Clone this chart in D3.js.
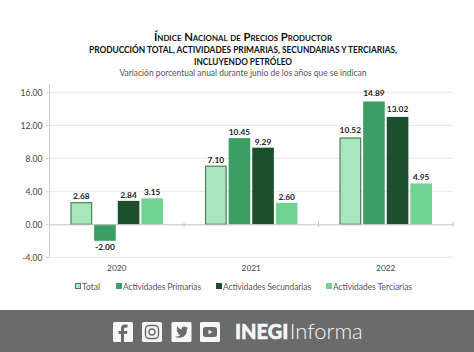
<!DOCTYPE html>
<html lang="es">
	<head>
		<meta charset="utf-8">
		<title>INPP</title>
		<script src="https://cdnjs.cloudflare.com/ajax/libs/d3/7.8.5/d3.min.js"></script>
		<style>
			html, body { margin: 0; padding: 0; background: #fff; overflow: hidden; }
			svg { display: block; }
			text { font-family: Lato, "Open Sans", sans-serif; }
		</style>
	</head>
	<body>
		<script>
			//Data
			var years = ["2020", "2021", "2022"];
			var seriesNames = ["Total", "Actividades Primarias", "Actividades Secundarias", "Actividades Terciarias"];
			var total = [2.68, 7.10, 10.52];
			var primarias = [-2.00, 10.45, 14.89];
			var secundarias = [2.84, 9.29, 13.02];
			var terciarias = [3.15, 2.60, 4.95];
			var yTicks = [-4, 0, 4, 8, 12, 16];
			var titleLines = [
				"Índice Nacional de Precios Productor",
				"PRODUCCIÓN TOTAL, ACTIVIDADES PRIMARIAS, SECUNDARIAS Y TERCIARIAS,",
				"INCLUYENDO PETRÓLEO"
			];
			var subtitle = "Variación porcentual anual durante junio de los años que se indican";

			var allSeries = [total, primarias, secundarias, terciarias];
			var fills = ["#a8e6bd", "#3c9e63", "#1d4f2c", "#70d394"];
			var strokes = ["#4f7f5e", "none", "none", "none"];

			var w = 474;
			var h = 352;
			var cx = 243;

			//Plain hyphen on negatives, as in the original
			var fmt = function(d) { return d3.format(".2f")(d).replace("\u2212", "-"); };

			var svg = d3.select("body").append("svg")
				.attr("width", w)
				.attr("height", h);

			//Scales
			var yScale = d3.scaleLinear().domain([-4, 16]).range([257.3, 92.3]);
			var x0 = d3.scaleBand().domain(years).range([49.5, 453]);
			var x1 = d3.scaleBand().domain(d3.range(4))
				.range([0, x0.bandwidth()])
				.paddingInner(0.085)
				.paddingOuter(0.89);

			//Titles
			svg.append("text").text(titleLines[0])
				.attr("x", cx).attr("y", 41)
				.attr("text-anchor", "middle")
				.attr("font-size", "11.5px").attr("font-weight", "bold")
				.attr("font-variant", "small-caps").attr("fill", "#111")
				.attr("textLength", 178).attr("lengthAdjust", "spacingAndGlyphs");
			var lineWidths = [308, 98];
			svg.selectAll("text.t2")
				.data(titleLines.slice(1))
				.enter().append("text")
				.attr("class", "t2")
				.text(function(d) { return d; })
				.attr("x", cx)
				.attr("y", function(d, i) { return 53 + i * 12; })
				.attr("text-anchor", "middle")
				.attr("font-size", "9.2px").attr("font-weight", "bold")
				.attr("fill", "#111")
				.attr("textLength", function(d, i) { return lineWidths[i]; })
				.attr("lengthAdjust", "spacingAndGlyphs");
			svg.append("text").text(subtitle)
				.attr("x", cx).attr("y", 76)
				.attr("text-anchor", "middle")
				.attr("font-size", "9.6px").attr("fill", "#555")
				.attr("textLength", 247).attr("lengthAdjust", "spacingAndGlyphs");

			//Gridlines
			svg.selectAll("line.grid")
				.data(yTicks.filter(function(d) { return d !== 0; }))
				.enter().append("line")
				.attr("class", "grid")
				.attr("x1", 49.5).attr("x2", 453)
				.attr("y1", function(d) { return yScale(d); })
				.attr("y2", function(d) { return yScale(d); })
				.attr("stroke", "#e8e8e8");

			//Y axis
			var yAxis = d3.axisLeft(yScale)
				.tickValues(yTicks)
				.tickSize(4)
				.tickFormat(fmt);
			var yG = svg.append("g").attr("transform", "translate(49.5,0)").call(yAxis);
			yG.select(".domain").attr("stroke", "#cfcfcf").attr("d", "M0,84V257.3");
			yG.selectAll("line").attr("stroke", "#cfcfcf");
			yG.selectAll("text").attr("font-size", "8.6px").attr("fill", "#444")
				.attr("font-family", "Lato, sans-serif").attr("x", -7);

			//Bars
			var groups = svg.selectAll("g.series")
				.data(allSeries)
				.enter().append("g")
				.attr("class", "series");

			groups.each(function(values, s) {
				d3.select(this).selectAll("rect")
					.data(values)
					.enter().append("rect")
					.attr("x", function(d, i) { return x0(years[i]) + x1(s) + (s === 0 ? 0.5 : 0); })
					.attr("y", function(d) { return yScale(Math.max(d, 0)) + (s === 0 ? 0.5 : 0); })
					.attr("width", x1.bandwidth() - (s === 0 ? 1 : 0))
					.attr("height", function(d) { return Math.abs(yScale(d) - yScale(0)) - (s === 0 ? 0.5 : 0); })
					.attr("fill", fills[s])
					.attr("stroke", strokes[s])
					.attr("stroke-width", 1.2);

				d3.select(this).selectAll("text")
					.data(values)
					.enter().append("text")
					.text(fmt)
					.attr("x", function(d, i) { return x0(years[i]) + x1(s) + x1.bandwidth() / 2; })
					.attr("y", function(d) {
						if (d < 0) return yScale(d) + 9.5;
						return yScale(d) - (d > 10.5 ? 5 : 3);
					})
					.attr("text-anchor", "middle")
					.attr("font-size", "8.4px").attr("font-weight", "bold")
					.attr("fill", "#222");
			});

			//X axis at zero
			var xAxis = d3.axisBottom(x0).tickSize(0).tickFormat("");
			var xG = svg.append("g").attr("transform", "translate(0," + yScale(0) + ")").call(xAxis);
			xG.select(".domain").attr("stroke", "#c4c4c4");
			svg.selectAll("line.xtick")
				.data(x0.domain().slice(1).concat(["end"]))
				.enter().append("line")
				.attr("class", "xtick")
				.attr("x1", function(d) { return d === "end" ? 453 : x0(d); })
				.attr("x2", function(d) { return d === "end" ? 453 : x0(d); })
				.attr("y1", yScale(0) - 2.5).attr("y2", yScale(0) + 2.5)
				.attr("stroke", "#c4c4c4");

			//Year labels
			svg.selectAll("text.year")
				.data(years)
				.enter().append("text")
				.attr("class", "year")
				.text(function(d) { return d; })
				.attr("x", function(d) { return x0(d) + x0.bandwidth() / 2; })
				.attr("y", 271)
				.attr("text-anchor", "middle")
				.attr("font-size", "8.4px").attr("fill", "#444");

			//Legend
			var legendX = [75, 116, 216, 326];
			var legendW = [18, 78, 88, 79];
			var legend = svg.selectAll("g.legend")
				.data(seriesNames)
				.enter().append("g")
				.attr("class", "legend")
				.attr("transform", function(d, i) { return "translate(" + legendX[i] + ",283)"; });
			legend.append("rect")
				.attr("x", function(d, i) { return i === 0 ? 0.5 : 0; })
				.attr("y", function(d, i) { return i === 0 ? 0.5 : 0; })
				.attr("width", function(d, i) { return i === 0 ? 5 : 6; })
				.attr("height", function(d, i) { return i === 0 ? 5 : 6; })
				.attr("fill", function(d, i) { return fills[i]; })
				.attr("stroke", function(d, i) { return strokes[i]; });
			legend.append("text")
				.text(function(d) { return d; })
				.attr("x", 7).attr("y", 6.5)
				.attr("font-size", "9.4px").attr("fill", "#555")
				.attr("textLength", function(d, i) { return legendW[i]; })
				.attr("lengthAdjust", "spacingAndGlyphs");

			//Footer band
			svg.append("rect")
				.attr("x", 0).attr("y", 310)
				.attr("width", w).attr("height", 42)
				.attr("fill", "#6b6b6b");

			var iconX = [113, 142, 171.5, 200];
			var icons = svg.selectAll("g.icon")
				.data(iconX)
				.enter().append("g")
				.attr("class", "icon")
				.attr("transform", function(d) { return "translate(" + d + ",322)"; });
			icons.append("rect")
				.attr("width", 20).attr("height", 20).attr("rx", 1.5)
				.attr("fill", "#f7f7f7");
			d3.select(icons.nodes()[0]).append("path")
				.attr("d", "M11,20V12H14L14.5,9H11V7Q11,5.5,12.5,5.5H14.5V2.6H12Q8,2.6,8,6.5V9H5.5V12H8V20Z")
				.attr("fill", "#6b6b6b");
			var ig = d3.select(icons.nodes()[1]);
			ig.append("rect").attr("x", 3.5).attr("y", 3.5).attr("width", 13).attr("height", 13).attr("rx", 3.5)
				.attr("fill", "none").attr("stroke", "#6b6b6b").attr("stroke-width", 1.4);
			ig.append("circle").attr("cx", 10).attr("cy", 10).attr("r", 3)
				.attr("fill", "none").attr("stroke", "#6b6b6b").attr("stroke-width", 1.4);
			d3.select(icons.nodes()[2]).append("path")
				.attr("d", "M3.5,14.5Q7,15,9,13Q6.5,12.5,6,10.8H7.5Q5,10,5,7.6L6.5,8Q4.5,6,5.7,4.5Q8,7.4,10.2,7.4Q10,4.5,12.6,4.5Q14,4.5,14.6,5.4L16.3,4.8L15.3,6.4L16.6,6L15.5,7.4Q15.5,14.5,8.5,15.8Q5.5,16,3.5,14.5Z")
				.attr("fill", "#6b6b6b");
			var yt = d3.select(icons.nodes()[3]);
			yt.append("rect").attr("x", 3).attr("y", 5).attr("width", 14).attr("height", 10).attr("rx", 2.5)
				.attr("fill", "#6b6b6b");
			yt.append("path").attr("d", "M8.5,7.8L12.5,10L8.5,12.2Z").attr("fill", "#f7f7f7");

			var brand = svg.append("text").attr("x", 235).attr("y", 339)
				.attr("fill", "#f7f7f7").attr("font-size", "20px");
			brand.append("tspan").text("INEGI").attr("font-weight", "900")
				.attr("stroke", "#f7f7f7").attr("stroke-width", 0.5);
			brand.append("tspan").text("Informa").attr("font-weight", "300").attr("dx", 1.5)
				.attr("font-size", "22px");
		</script>
	</body>
</html>
